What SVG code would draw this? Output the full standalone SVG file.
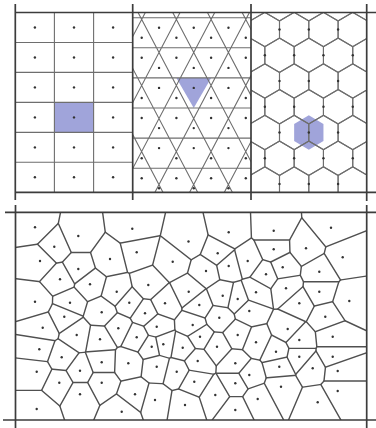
<svg xmlns="http://www.w3.org/2000/svg" width="376" height="428" viewBox="0 0 376 428">
<style>
.frame{stroke:#3c3c3c;stroke-width:1.7;fill:none}
.grid{stroke:#6e6e6e;stroke-width:1.1;fill:none}
.hl{fill:#a0a4da}
.dot{fill:#333}
.k{fill:#000;stroke:#000;stroke-width:1.4;vector-effect:non-scaling-stroke}
</style>
<defs>
<clipPath id="cTri"><rect x="132.7" y="12.5" width="118.3" height="179.8"/></clipPath>
<clipPath id="cHex"><rect x="251" y="12.5" width="115.7" height="179.8"/></clipPath>
<path id="hex" d="M0,-17.17 L14.65,-8.58 L14.65,8.58 L0,17.17 L-14.65,8.58 L-14.65,-8.58 Z"/>
<circle id="d" r="1.2"/>
<rect id="W" x="15" y="212" width="352" height="208" fill="#fff"/>
<rect id="p" class="k" x="0" y="-40" width="40" height="80"/>
<rect id="n" class="k" x="-40" y="-40" width="40" height="80"/>
<mask id="m1"><use href="#W"/><use href="#p" transform="matrix(43.3 8.7 -8.7 43.3 56.65 231.65)"/><use href="#p" transform="matrix(19.3 19.4 -19.4 19.3 44.65 237)"/><use href="#p" transform="matrix(5 33.7 -33.7 5 37.5 244.15)"/></mask>
<mask id="m2"><use href="#W"/><use href="#n" transform="matrix(43.3 8.7 -8.7 43.3 56.65 231.65)"/><use href="#p" transform="matrix(54 -7.3 7.3 54 105.3 232.35)"/><use href="#p" transform="matrix(-24 10.7 -10.7 -24 66.3 241.35)"/><use href="#p" transform="matrix(31.7 23 -23 31.7 94.15 247.5)"/><use href="#p" transform="matrix(0 33 -33 0 78.3 252.5)"/></mask>
<mask id="m3"><use href="#W"/><use href="#n" transform="matrix(54 -7.3 7.3 54 105.3 232.35)"/><use href="#p" transform="matrix(56.2 12.8 -12.8 56.2 160.4 235.1)"/><use href="#p" transform="matrix(-22.3 30.3 -30.3 -22.3 121.15 243.85)"/><use href="#p" transform="matrix(4.4 23.6 -23.6 4.4 134.5 240.5)"/></mask>
<mask id="m4"><use href="#W"/><use href="#n" transform="matrix(56.2 12.8 -12.8 56.2 160.4 235.1)"/><use href="#p" transform="matrix(40.2 -9.2 9.2 40.2 208.6 236.9)"/><use href="#p" transform="matrix(-51.8 10.8 -10.8 -51.8 162.6 246.9)"/><use href="#p" transform="matrix(-15.8 20.2 -20.2 -15.8 180.6 251.6)"/><use href="#p" transform="matrix(29.2 11.8 -11.8 29.2 203.1 247.4)"/><use href="#p" transform="matrix(17.5 29.5 -29.5 17.5 197.25 256.25)"/></mask>
<mask id="m5"><use href="#W"/><use href="#n" transform="matrix(40.2 -9.2 9.2 40.2 208.6 236.9)"/><use href="#p" transform="matrix(45 -1.6 1.6 45 251.2 231.5)"/><use href="#p" transform="matrix(-11 21 -21 -11 223.2 242.8)"/><use href="#p" transform="matrix(19 28.7 -28.7 19 238.2 246.65)"/></mask>
<mask id="m6"><use href="#W"/><use href="#n" transform="matrix(45 -1.6 1.6 45 251.2 231.5)"/><use href="#p" transform="matrix(57.3 -3 3 57.3 302.35 229.2)"/><use href="#p" transform="matrix(0 18.6 -18.6 0 273.7 240)"/><use href="#p" transform="matrix(32.3 17.6 -17.6 32.3 289.85 239.5)"/><use href="#p" transform="matrix(-26 30.3 -30.3 -26 260.7 245.85)"/></mask>
<mask id="m7"><use href="#W"/><use href="#n" transform="matrix(57.3 -3 3 57.3 302.35 229.2)"/><use href="#p" transform="matrix(-25 20.6 -20.6 -25 318.5 238)"/><use href="#p" transform="matrix(11.7 29.6 -29.6 11.7 336.85 242.5)"/></mask>
<mask id="m8"><use href="#W"/><use href="#n" transform="matrix(19.3 19.4 -19.4 19.3 44.65 237)"/><use href="#n" transform="matrix(-24 10.7 -10.7 -24 66.3 241.35)"/><use href="#p" transform="matrix(-14.3 14.3 -14.3 -14.3 47.15 253.85)"/><use href="#p" transform="matrix(24 22.3 -22.3 24 66.3 257.85)"/><use href="#p" transform="matrix(5.7 32.6 -32.6 5.7 57.15 263)"/></mask>
<mask id="m9"><use href="#W"/><use href="#n" transform="matrix(5 33.7 -33.7 5 37.5 244.15)"/><use href="#n" transform="matrix(-14.3 14.3 -14.3 -14.3 47.15 253.85)"/><use href="#p" transform="matrix(20 18.3 -18.3 20 50 270.15)"/><use href="#p" transform="matrix(-5 40.7 -40.7 -5 37.5 281.35)"/></mask>
<mask id="m10"><use href="#W"/><use href="#n" transform="matrix(31.7 23 -23 31.7 94.15 247.5)"/><use href="#n" transform="matrix(-22.3 30.3 -30.3 -22.3 121.15 243.85)"/><use href="#p" transform="matrix(26.7 -6.7 6.7 26.7 123.35 255.65)"/><use href="#p" transform="matrix(-31.7 10 -10 -31.7 94.15 264)"/><use href="#p" transform="matrix(-20 25.3 -25.3 -20 100 271.65)"/><use href="#p" transform="matrix(6.7 32.7 -32.7 6.7 113.35 275.35)"/></mask>
<mask id="m11"><use href="#W"/><use href="#n" transform="matrix(4.4 23.6 -23.6 4.4 134.5 240.5)"/><use href="#n" transform="matrix(-51.8 10.8 -10.8 -51.8 162.6 246.9)"/><use href="#n" transform="matrix(26.7 -6.7 6.7 26.7 123.35 255.65)"/><use href="#p" transform="matrix(36 9.4 -9.4 36 154.7 257)"/><use href="#p" transform="matrix(11.6 32.7 -32.7 11.6 142.5 268.65)"/><use href="#p" transform="matrix(-20 39.4 -39.4 -20 126.7 272)"/></mask>
<mask id="m12"><use href="#W"/><use href="#n" transform="matrix(-15.8 20.2 -20.2 -15.8 180.6 251.6)"/><use href="#n" transform="matrix(36 9.4 -9.4 36 154.7 257)"/><use href="#p" transform="matrix(33.3 9.3 -9.3 33.3 189.35 266.35)"/><use href="#p" transform="matrix(-24.4 23.3 -23.3 -24.4 160.5 273.35)"/><use href="#p" transform="matrix(-7.7 41.6 -41.6 -7.7 168.85 282.5)"/><use href="#p" transform="matrix(16 30 -30 16 180.7 276.7)"/></mask>
<mask id="m13"><use href="#W"/><use href="#n" transform="matrix(29.2 11.8 -11.8 29.2 203.1 247.4)"/><use href="#n" transform="matrix(-11 21 -21 -11 223.2 242.8)"/><use href="#p" transform="matrix(30 7.7 -7.7 30 232.7 257.15)"/><use href="#p" transform="matrix(11 12.7 -12.7 11 223.2 259.65)"/><use href="#p" transform="matrix(-11.7 17.7 -17.7 -11.7 211.85 262.15)"/></mask>
<mask id="m14"><use href="#W"/><use href="#n" transform="matrix(0 18.6 -18.6 0 273.7 240)"/><use href="#p" transform="matrix(32.3 -1 1 32.3 289.85 248.8)"/><use href="#p" transform="matrix(-26 11.7 -11.7 -26 260.7 255.15)"/><use href="#p" transform="matrix(9 18 -18 9 278.2 258.3)"/><use href="#p" transform="matrix(-7.7 25 -25 -7.7 269.85 261.8)"/></mask>
<mask id="m15"><use href="#W"/><use href="#n" transform="matrix(32.3 17.6 -17.6 32.3 289.85 239.5)"/><use href="#n" transform="matrix(-25 20.6 -20.6 -25 318.5 238)"/><use href="#n" transform="matrix(32.3 -1 1 32.3 289.85 248.8)"/><use href="#p" transform="matrix(36.7 9 -9 36.7 324.35 252.8)"/><use href="#p" transform="matrix(-23.3 19 -19 -23.3 294.35 257.8)"/><use href="#p" transform="matrix(13.3 23.4 -23.4 13.3 312.65 260)"/></mask>
<mask id="m16"><use href="#W"/><use href="#n" transform="matrix(11.7 29.6 -29.6 11.7 336.85 242.5)"/><use href="#n" transform="matrix(36.7 9 -9 36.7 324.35 252.8)"/><use href="#p" transform="matrix(-23.4 14.4 -14.4 -23.4 331 264.5)"/><use href="#p" transform="matrix(6.6 43.7 -43.7 6.6 346 279.15)"/></mask>
<mask id="m17"><use href="#W"/><use href="#n" transform="matrix(19 28.7 -28.7 19 238.2 246.65)"/><use href="#n" transform="matrix(-26 30.3 -30.3 -26 260.7 245.85)"/><use href="#n" transform="matrix(30 7.7 -7.7 30 232.7 257.15)"/><use href="#n" transform="matrix(-26 11.7 -11.7 -26 260.7 255.15)"/><use href="#p" transform="matrix(-19 5 -5 -19 238.2 263.5)"/><use href="#p" transform="matrix(18.3 13.3 -13.3 18.3 256.85 267.65)"/><use href="#p" transform="matrix(8.3 31.3 -31.3 8.3 251.85 276.65)"/></mask>
<mask id="m18"><use href="#W"/><use href="#n" transform="matrix(0 33 -33 0 78.3 252.5)"/><use href="#n" transform="matrix(24 22.3 -22.3 24 66.3 257.85)"/><use href="#n" transform="matrix(-31.7 10 -10 -31.7 94.15 264)"/><use href="#p" transform="matrix(-18.3 10.3 -10.3 -18.3 69.15 274.15)"/><use href="#p" transform="matrix(11.7 15.3 -15.3 11.7 84.15 276.65)"/></mask>
<mask id="m19"><use href="#W"/><use href="#n" transform="matrix(5.7 32.6 -32.6 5.7 57.15 263)"/><use href="#n" transform="matrix(20 18.3 -18.3 20 50 270.15)"/><use href="#n" transform="matrix(-18.3 10.3 -10.3 -18.3 69.15 274.15)"/><use href="#p" transform="matrix(30 5 -5 30 75 281.8)"/><use href="#p" transform="matrix(-25 22.4 -22.4 -25 47.5 290.5)"/><use href="#p" transform="matrix(10 23.4 -23.4 10 65 291)"/></mask>
<mask id="m20"><use href="#W"/><use href="#n" transform="matrix(11 12.7 -12.7 11 223.2 259.65)"/><use href="#n" transform="matrix(-19 5 -5 -19 238.2 263.5)"/><use href="#p" transform="matrix(-22.7 5 -5 -22.7 217.35 268.5)"/><use href="#p" transform="matrix(-6 29.7 -29.7 -6 225.7 280.85)"/><use href="#p" transform="matrix(27.3 26.3 -26.3 27.3 242.35 279.15)"/><use href="#p" transform="matrix(9 33 -33 9 233.2 282.5)"/></mask>
<mask id="m21"><use href="#W"/><use href="#n" transform="matrix(17.5 29.5 -29.5 17.5 197.25 256.25)"/><use href="#n" transform="matrix(33.3 9.3 -9.3 33.3 189.35 266.35)"/><use href="#n" transform="matrix(-11.7 17.7 -17.7 -11.7 211.85 262.15)"/><use href="#n" transform="matrix(-22.7 5 -5 -22.7 217.35 268.5)"/><use href="#p" transform="matrix(-17.3 20.7 -20.7 -17.3 197.35 281.35)"/><use href="#p" transform="matrix(16.7 24.7 -24.7 16.7 214.35 283.35)"/><use href="#p" transform="matrix(-6.7 34 -34 -6.7 202.65 288)"/></mask>
<mask id="m22"><use href="#W"/><use href="#n" transform="matrix(9 18 -18 9 278.2 258.3)"/><use href="#n" transform="matrix(-23.3 19 -19 -23.3 294.35 257.8)"/><use href="#p" transform="matrix(-16.7 7 -7 -16.7 274.35 270.8)"/><use href="#p" transform="matrix(36.6 4.4 -4.4 36.6 301 269.5)"/><use href="#p" transform="matrix(3.3 21 -21 3.3 284.35 277.8)"/></mask>
<mask id="m23"><use href="#W"/><use href="#n" transform="matrix(-7.7 25 -25 -7.7 269.85 261.8)"/><use href="#n" transform="matrix(18.3 13.3 -13.3 18.3 256.85 267.65)"/><use href="#n" transform="matrix(-16.7 7 -7 -16.7 274.35 270.8)"/><use href="#p" transform="matrix(-10 18 -18 -10 261 283.3)"/><use href="#p" transform="matrix(20 14 -14 20 276 281.3)"/></mask>
<mask id="m24"><use href="#W"/><use href="#n" transform="matrix(13.3 23.4 -23.4 13.3 312.65 260)"/><use href="#n" transform="matrix(-23.4 14.4 -14.4 -23.4 331 264.5)"/><use href="#n" transform="matrix(36.6 4.4 -4.4 36.6 301 269.5)"/><use href="#p" transform="matrix(-33.3 16.6 -16.6 -33.3 302.65 280)"/><use href="#p" transform="matrix(0 20 -20 0 319.3 281.7)"/><use href="#p" transform="matrix(30 29.3 -29.3 30 334.3 286.35)"/></mask>
<mask id="m25"><use href="#W"/><use href="#n" transform="matrix(-20 25.3 -25.3 -20 100 271.65)"/><use href="#n" transform="matrix(11.7 15.3 -15.3 11.7 84.15 276.65)"/><use href="#n" transform="matrix(30 5 -5 30 75 281.8)"/><use href="#p" transform="matrix(26.7 7.4 -7.4 26.7 103.35 288)"/><use href="#p" transform="matrix(-20 18.4 -18.4 -20 80 293.5)"/><use href="#p" transform="matrix(11.7 28 -28 11.7 95.85 298.3)"/></mask>
<mask id="m26"><use href="#W"/><use href="#n" transform="matrix(11.6 32.7 -32.7 11.6 142.5 268.65)"/><use href="#n" transform="matrix(-24.4 23.3 -23.3 -24.4 160.5 273.35)"/><use href="#p" transform="matrix(-31.6 6.7 -6.7 -31.6 132.5 288.35)"/><use href="#p" transform="matrix(-19 17.7 -17.7 -19 138.8 293.85)"/><use href="#p" transform="matrix(16.7 18.3 -18.3 16.7 156.65 294.15)"/><use href="#p" transform="matrix(40.4 6.7 -6.7 40.4 168.5 288.35)"/><use href="#p" transform="matrix(-3.3 28.3 -28.3 -3.3 146.65 299.15)"/></mask>
<mask id="m27"><use href="#W"/><use href="#n" transform="matrix(6.7 32.7 -32.7 6.7 113.35 275.35)"/><use href="#n" transform="matrix(-20 39.4 -39.4 -20 126.7 272)"/><use href="#n" transform="matrix(26.7 7.4 -7.4 26.7 103.35 288)"/><use href="#n" transform="matrix(-31.6 6.7 -6.7 -31.6 132.5 288.35)"/><use href="#p" transform="matrix(12.6 11 -11 12.6 123 297.2)"/><use href="#p" transform="matrix(-15 20.6 -20.6 -15 109.2 302)"/></mask>
<mask id="m28"><use href="#W"/><use href="#n" transform="matrix(-5 40.7 -40.7 -5 37.5 281.35)"/><use href="#n" transform="matrix(-25 22.4 -22.4 -25 47.5 290.5)"/><use href="#p" transform="matrix(35 1 -1 35 52.5 302.2)"/><use href="#p" transform="matrix(29.3 15 -15 29.3 49.65 309.2)"/><use href="#p" transform="matrix(7.7 26 -26 7.7 38.85 314.7)"/></mask>
<mask id="m29"><use href="#W"/><use href="#n" transform="matrix(10 23.4 -23.4 10 65 291)"/><use href="#n" transform="matrix(-20 18.4 -18.4 -20 80 293.5)"/><use href="#n" transform="matrix(35 1 -1 35 52.5 302.2)"/><use href="#p" transform="matrix(31.7 9.6 -9.6 31.7 85.85 307.5)"/><use href="#p" transform="matrix(-5.7 14 -14 -5.7 67.15 309.7)"/></mask>
<mask id="m30"><use href="#W"/><use href="#n" transform="matrix(-19 17.7 -17.7 -19 138.8 293.85)"/><use href="#n" transform="matrix(12.6 11 -11 12.6 123 297.2)"/><use href="#p" transform="matrix(-27.6 9.6 -9.6 -27.6 115.5 307.5)"/><use href="#p" transform="matrix(15.7 10.6 -10.6 15.7 137.15 308)"/><use href="#p" transform="matrix(-11 25.6 -25.6 -11 123.8 315.5)"/></mask>
<mask id="m31"><use href="#W"/><use href="#n" transform="matrix(-7.7 41.6 -41.6 -7.7 168.85 282.5)"/><use href="#n" transform="matrix(16.7 18.3 -18.3 16.7 156.65 294.15)"/><use href="#p" transform="matrix(23.7 -11.6 11.6 23.7 176.85 297.5)"/><use href="#p" transform="matrix(34.3 1.7 -1.7 34.3 182.15 304.15)"/><use href="#p" transform="matrix(-20 10 -10 -20 155 308.3)"/><use href="#p" transform="matrix(-8.3 23.4 -23.4 -8.3 160.85 315)"/><use href="#p" transform="matrix(27.7 21.7 -21.7 27.7 178.85 314.15)"/></mask>
<mask id="m32"><use href="#W"/><use href="#n" transform="matrix(16 30 -30 16 180.7 276.7)"/><use href="#n" transform="matrix(-17.3 20.7 -20.7 -17.3 197.35 281.35)"/><use href="#n" transform="matrix(40.4 6.7 -6.7 40.4 168.5 288.35)"/><use href="#n" transform="matrix(23.7 -11.6 11.6 23.7 176.85 297.5)"/><use href="#p" transform="matrix(34 4 -4 34 205.7 293.7)"/><use href="#p" transform="matrix(10.6 13.3 -13.3 10.6 194 298.35)"/></mask>
<mask id="m33"><use href="#W"/><use href="#n" transform="matrix(-6 29.7 -29.7 -6 225.7 280.85)"/><use href="#n" transform="matrix(16.7 24.7 -24.7 16.7 214.35 283.35)"/><use href="#n" transform="matrix(34 4 -4 34 205.7 293.7)"/><use href="#p" transform="matrix(-23.4 9.3 -9.3 -23.4 211 300.35)"/><use href="#p" transform="matrix(15 3.3 -3.3 15 230.2 297.35)"/><use href="#p" transform="matrix(-3.4 22 -22 -3.4 221 306.7)"/></mask>
<mask id="m34"><use href="#W"/><use href="#n" transform="matrix(8.3 31.3 -31.3 8.3 251.85 276.65)"/><use href="#n" transform="matrix(27.3 26.3 -26.3 27.3 242.35 279.15)"/><use href="#n" transform="matrix(-10 18 -18 -10 261 283.3)"/><use href="#p" transform="matrix(30 -4 4 30 271 290.3)"/><use href="#p" transform="matrix(-18.3 6.7 -6.7 -18.3 246.85 295.65)"/><use href="#p" transform="matrix(-6.7 18.7 -18.7 -6.7 252.65 301.65)"/></mask>
<mask id="m35"><use href="#W"/><use href="#n" transform="matrix(3.3 21 -21 3.3 284.35 277.8)"/><use href="#n" transform="matrix(20 14 -14 20 276 281.3)"/><use href="#n" transform="matrix(-33.3 16.6 -16.6 -33.3 302.65 280)"/><use href="#n" transform="matrix(30 -4 4 30 271 290.3)"/><use href="#p" transform="matrix(33.3 3.4 -3.4 33.3 302.65 290)"/><use href="#p" transform="matrix(13.3 15 -15 13.3 292.65 295.8)"/><use href="#p" transform="matrix(-36.7 22.7 -22.7 -36.7 267.65 299.65)"/><use href="#p" transform="matrix(1.7 40.7 -40.7 1.7 286.85 308.65)"/></mask>
<mask id="m36"><use href="#W"/><use href="#n" transform="matrix(0 20 -20 0 319.3 281.7)"/><use href="#n" transform="matrix(33.3 3.4 -3.4 33.3 302.65 290)"/><use href="#p" transform="matrix(30 9.3 -9.3 30 334.3 296.35)"/><use href="#p" transform="matrix(-20 11.6 -11.6 -20 309.3 297.5)"/><use href="#p" transform="matrix(6 25 -25 6 322.3 304.2)"/></mask>
<mask id="m37"><use href="#W"/><use href="#n" transform="matrix(6.6 43.7 -43.7 6.6 346 279.15)"/><use href="#n" transform="matrix(30 29.3 -29.3 30 334.3 286.35)"/><use href="#n" transform="matrix(30 9.3 -9.3 30 334.3 296.35)"/><use href="#p" transform="matrix(-24 15.7 -15.7 -24 337.3 308.85)"/><use href="#p" transform="matrix(-16.6 35.7 -35.7 -16.6 341 318.85)"/></mask>
<mask id="m38"><use href="#W"/><use href="#n" transform="matrix(-6.7 34 -34 -6.7 202.65 288)"/><use href="#n" transform="matrix(34.3 1.7 -1.7 34.3 182.15 304.15)"/><use href="#n" transform="matrix(10.6 13.3 -13.3 10.6 194 298.35)"/><use href="#n" transform="matrix(-23.4 9.3 -9.3 -23.4 211 300.35)"/><use href="#p" transform="matrix(-6.6 20 -20 -6.6 196 315)"/><use href="#p" transform="matrix(20 12.7 -12.7 20 209.3 311.35)"/></mask>
<mask id="m39"><use href="#W"/><use href="#n" transform="matrix(9 33 -33 9 233.2 282.5)"/><use href="#n" transform="matrix(15 3.3 -3.3 15 230.2 297.35)"/><use href="#n" transform="matrix(-18.3 6.7 -6.7 -18.3 246.85 295.65)"/><use href="#p" transform="matrix(11.6 12 -12 11.6 243.5 305)"/><use href="#p" transform="matrix(-18.4 18.7 -18.7 -18.4 228.5 308.35)"/></mask>
<mask id="m40"><use href="#W"/><use href="#n" transform="matrix(13.3 15 -15 13.3 292.65 295.8)"/><use href="#n" transform="matrix(-20 11.6 -11.6 -20 309.3 297.5)"/><use href="#p" transform="matrix(26 13.4 -13.4 26 312.3 310)"/><use href="#p" transform="matrix(-11.6 25.7 -25.7 -11.6 293.5 316.15)"/><use href="#p" transform="matrix(0 36.7 -36.7 0 299.3 321.65)"/></mask>
<mask id="m41"><use href="#W"/><use href="#n" transform="matrix(11.7 28 -28 11.7 95.85 298.3)"/><use href="#n" transform="matrix(-15 20.6 -20.6 -15 109.2 302)"/><use href="#n" transform="matrix(31.7 9.6 -9.6 31.7 85.85 307.5)"/><use href="#n" transform="matrix(-27.6 9.6 -9.6 -27.6 115.5 307.5)"/><use href="#p" transform="matrix(-37.4 4.4 -4.4 -37.4 83 314.5)"/><use href="#p" transform="matrix(16.6 16 -16 16.6 110 320.3)"/><use href="#p" transform="matrix(-25 22.7 -22.7 -25 89.2 323.65)"/><use href="#p" transform="matrix(-1.7 27 -27 -1.7 100.85 325.8)"/></mask>
<mask id="m42"><use href="#W"/><use href="#n" transform="matrix(-3.3 28.3 -28.3 -3.3 146.65 299.15)"/><use href="#n" transform="matrix(15.7 10.6 -10.6 15.7 137.15 308)"/><use href="#n" transform="matrix(-20 10 -10 -20 155 308.3)"/><use href="#p" transform="matrix(-26.7 15 -15 -26.7 131.65 320.8)"/><use href="#p" transform="matrix(11.7 13.4 -13.4 11.7 150.85 320)"/><use href="#p" transform="matrix(-8.3 24 -24 -8.3 140.85 325.3)"/></mask>
<mask id="m43"><use href="#W"/><use href="#n" transform="matrix(29.3 15 -15 29.3 49.65 309.2)"/><use href="#n" transform="matrix(-5.7 14 -14 -5.7 67.15 309.7)"/><use href="#n" transform="matrix(-37.4 4.4 -4.4 -37.4 83 314.5)"/><use href="#p" transform="matrix(-21.6 11 -11 -21.6 53.5 322.2)"/><use href="#p" transform="matrix(12.4 18.3 -18.3 12.4 70.5 325.85)"/></mask>
<mask id="m44"><use href="#W"/><use href="#n" transform="matrix(7.7 26 -26 7.7 38.85 314.7)"/><use href="#n" transform="matrix(-21.6 11 -11 -21.6 53.5 322.2)"/><use href="#p" transform="matrix(34 7.3 -7.3 34 59.7 331.35)"/><use href="#p" transform="matrix(-3.4 21.6 -21.6 -3.4 41 338.5)"/><use href="#p" transform="matrix(19 29.6 -29.6 19 52.2 342.5)"/></mask>
<mask id="m45"><use href="#W"/><use href="#n" transform="matrix(-11 25.6 -25.6 -11 123.8 315.5)"/><use href="#n" transform="matrix(16.6 16 -16 16.6 110 320.3)"/><use href="#n" transform="matrix(-26.7 15 -15 -26.7 131.65 320.8)"/><use href="#p" transform="matrix(-18.3 11 -11 -18.3 109.15 333.8)"/><use href="#p" transform="matrix(18.4 9 -9 18.4 127.5 332.8)"/><use href="#p" transform="matrix(10 35 -35 10 123.3 345.8)"/></mask>
<mask id="m46"><use href="#W"/><use href="#n" transform="matrix(-8.3 23.4 -23.4 -8.3 160.85 315)"/><use href="#n" transform="matrix(11.7 13.4 -13.4 11.7 150.85 320)"/><use href="#p" transform="matrix(36 -1.7 1.7 36 174.7 325.85)"/><use href="#p" transform="matrix(-20 10.6 -10.6 -20 146.7 332)"/><use href="#p" transform="matrix(-5 20 -20 -5 154.2 336.7)"/><use href="#p" transform="matrix(6.6 17.6 -17.6 6.6 160 335.5)"/></mask>
<mask id="m47"><use href="#W"/><use href="#n" transform="matrix(-6.7 18.7 -18.7 -6.7 252.65 301.65)"/><use href="#n" transform="matrix(-36.7 22.7 -22.7 -36.7 267.65 299.65)"/><use href="#n" transform="matrix(11.6 12 -12 11.6 243.5 305)"/><use href="#p" transform="matrix(-30 6.7 -6.7 -30 234.3 314.35)"/><use href="#p" transform="matrix(38.4 18 -18 38.4 268.5 320)"/><use href="#p" transform="matrix(-11.6 24 -24 -11.6 243.5 323)"/><use href="#p" transform="matrix(6.7 31.3 -31.3 6.7 252.65 326.65)"/></mask>
<mask id="m48"><use href="#W"/><use href="#n" transform="matrix(6 25 -25 6 322.3 304.2)"/><use href="#n" transform="matrix(-24 15.7 -15.7 -24 337.3 308.85)"/><use href="#n" transform="matrix(26 13.4 -13.4 26 312.3 310)"/><use href="#p" transform="matrix(-37.6 12.3 -12.3 -37.6 306.5 322.85)"/><use href="#p" transform="matrix(7.4 20 -20 7.4 329 326.7)"/><use href="#p" transform="matrix(-26 23.3 -23.3 -26 312.3 328.35)"/></mask>
<mask id="m49"><use href="#W"/><use href="#n" transform="matrix(27.7 21.7 -21.7 27.7 178.85 314.15)"/><use href="#n" transform="matrix(-6.6 20 -20 -6.6 196 315)"/><use href="#n" transform="matrix(36 -1.7 1.7 36 174.7 325.85)"/><use href="#p" transform="matrix(26.6 -7.3 7.3 26.6 206 321.35)"/><use href="#p" transform="matrix(-29.4 19.3 -19.3 -29.4 178 334.65)"/><use href="#p" transform="matrix(-10 22.7 -22.7 -10 187.7 336.35)"/><use href="#p" transform="matrix(7.3 11.7 -11.7 7.3 196.35 330.85)"/></mask>
<mask id="m50"><use href="#W"/><use href="#n" transform="matrix(-3.4 22 -22 -3.4 221 306.7)"/><use href="#n" transform="matrix(20 12.7 -12.7 20 209.3 311.35)"/><use href="#n" transform="matrix(-18.4 18.7 -18.7 -18.4 228.5 308.35)"/><use href="#n" transform="matrix(-30 6.7 -6.7 -30 234.3 314.35)"/><use href="#n" transform="matrix(26.6 -7.3 7.3 26.6 206 321.35)"/><use href="#p" transform="matrix(-19.3 19 -19 -19.3 209.65 327.2)"/><use href="#p" transform="matrix(18.4 17.3 -17.3 18.4 228.5 326.35)"/><use href="#p" transform="matrix(-2.3 29 -29 -2.3 218.15 332.2)"/></mask>
<mask id="m51"><use href="#W"/><use href="#n" transform="matrix(1.7 40.7 -40.7 1.7 286.85 308.65)"/><use href="#n" transform="matrix(-11.6 25.7 -25.7 -11.6 293.5 316.15)"/><use href="#n" transform="matrix(38.4 18 -18 38.4 268.5 320)"/><use href="#n" transform="matrix(-37.6 12.3 -12.3 -37.6 306.5 322.85)"/><use href="#p" transform="matrix(-31.7 13.3 -13.3 -31.7 271.85 335.65)"/><use href="#p" transform="matrix(11.6 11 -11 11.6 293.5 334.5)"/><use href="#p" transform="matrix(-11.7 22.7 -22.7 -11.7 281.85 340.35)"/></mask>
<mask id="m52"><use href="#W"/><use href="#n" transform="matrix(-25 22.7 -22.7 -25 89.2 323.65)"/><use href="#n" transform="matrix(12.4 18.3 -18.3 12.4 70.5 325.85)"/><use href="#n" transform="matrix(34 7.3 -7.3 34 59.7 331.35)"/><use href="#p" transform="matrix(23.3 4.3 -4.3 23.3 88.35 337.15)"/><use href="#p" transform="matrix(-15 22.3 -22.3 -15 69.2 346.15)"/><use href="#p" transform="matrix(25 27.3 -27.3 25 89.2 348.65)"/><use href="#p" transform="matrix(3.3 35.7 -35.7 3.3 78.35 352.85)"/></mask>
<mask id="m53"><use href="#W"/><use href="#n" transform="matrix(-1.7 27 -27 -1.7 100.85 325.8)"/><use href="#n" transform="matrix(-18.3 11 -11 -18.3 109.15 333.8)"/><use href="#n" transform="matrix(23.3 4.3 -4.3 23.3 88.35 337.15)"/><use href="#p" transform="matrix(1.7 23 -23 1.7 100.85 350.8)"/><use href="#p" transform="matrix(28.3 24 -24 28.3 114.15 351.3)"/></mask>
<mask id="m54"><use href="#W"/><use href="#n" transform="matrix(-8.3 24 -24 -8.3 140.85 325.3)"/><use href="#n" transform="matrix(18.4 9 -9 18.4 127.5 332.8)"/><use href="#n" transform="matrix(-20 10.6 -10.6 -20 146.7 332)"/><use href="#p" transform="matrix(15 9.4 -9.4 15 144.2 342)"/><use href="#p" transform="matrix(-8.4 26 -26 -8.4 132.5 350.3)"/></mask>
<mask id="m55"><use href="#W"/><use href="#n" transform="matrix(-5 20 -20 -5 154.2 336.7)"/><use href="#n" transform="matrix(15 9.4 -9.4 15 144.2 342)"/><use href="#p" transform="matrix(11.6 -2.4 2.4 11.6 157.5 345.5)"/><use href="#p" transform="matrix(-23.4 16.6 -16.6 -23.4 140 355)"/><use href="#p" transform="matrix(5 20 -20 5 154.2 356.7)"/></mask>
<mask id="m56"><use href="#W"/><use href="#n" transform="matrix(6.6 17.6 -17.6 6.6 160 335.5)"/><use href="#n" transform="matrix(-29.4 19.3 -19.3 -29.4 178 334.65)"/><use href="#n" transform="matrix(11.6 -2.4 2.4 11.6 157.5 345.5)"/><use href="#p" transform="matrix(19.4 3.4 -3.4 19.4 173 346)"/><use href="#p" transform="matrix(-6.6 22.4 -22.4 -6.6 160 355.5)"/><use href="#p" transform="matrix(13.4 27.4 -27.4 13.4 170 358)"/></mask>
<mask id="m57"><use href="#W"/><use href="#n" transform="matrix(-10 22.7 -22.7 -10 187.7 336.35)"/><use href="#n" transform="matrix(19.4 3.4 -3.4 19.4 173 346)"/><use href="#p" transform="matrix(17.3 -11 11 17.3 191.35 342.2)"/><use href="#p" transform="matrix(-6 24 -24 -6 179.7 359.7)"/><use href="#p" transform="matrix(15 13.3 -13.3 15 190.2 354.35)"/></mask>
<mask id="m58"><use href="#W"/><use href="#n" transform="matrix(-3.4 21.6 -21.6 -3.4 41 338.5)"/><use href="#p" transform="matrix(22.4 8 -8 22.4 50.5 353.3)"/><use href="#p" transform="matrix(-2.6 22.4 -22.4 -2.6 38 360.5)"/></mask>
<mask id="m59"><use href="#W"/><use href="#n" transform="matrix(7.3 11.7 -11.7 7.3 196.35 330.85)"/><use href="#n" transform="matrix(-19.3 19 -19 -19.3 209.65 327.2)"/><use href="#n" transform="matrix(17.3 -11 11 17.3 191.35 342.2)"/><use href="#p" transform="matrix(17 10 -10 17 208.5 341.7)"/><use href="#p" transform="matrix(-2.3 24.3 -24.3 -2.3 198.85 348.85)"/></mask>
<mask id="m60"><use href="#W"/><use href="#n" transform="matrix(-11.6 24 -24 -11.6 243.5 323)"/><use href="#n" transform="matrix(18.4 17.3 -17.3 18.4 228.5 326.35)"/><use href="#p" transform="matrix(18.3 7.3 -7.3 18.3 246.85 338.65)"/><use href="#p" transform="matrix(-20.7 11.7 -11.7 -20.7 227.35 340.85)"/><use href="#p" transform="matrix(-2.4 28.3 -28.3 -2.4 236.5 349.15)"/></mask>
<mask id="m61"><use href="#W"/><use href="#n" transform="matrix(-16.6 35.7 -35.7 -16.6 341 318.85)"/><use href="#n" transform="matrix(7.4 20 -20 7.4 329 326.7)"/><use href="#p" transform="matrix(-33.4 3.3 -3.3 -33.4 316 338.35)"/><use href="#p" transform="matrix(0 20 -20 0 332.7 346.7)"/></mask>
<mask id="m62"><use href="#W"/><use href="#n" transform="matrix(6.7 31.3 -31.3 6.7 252.65 326.65)"/><use href="#n" transform="matrix(-31.7 13.3 -13.3 -31.7 271.85 335.65)"/><use href="#n" transform="matrix(18.3 7.3 -7.3 18.3 246.85 338.65)"/><use href="#p" transform="matrix(20 9.4 -9.4 20 266 347)"/><use href="#p" transform="matrix(-20.7 21 -21 -20.7 245.65 352.8)"/><use href="#p" transform="matrix(-6.7 32.7 -32.7 -6.7 252.65 358.65)"/></mask>
<mask id="m63"><use href="#W"/><use href="#n" transform="matrix(-2.3 29 -29 -2.3 218.15 332.2)"/><use href="#n" transform="matrix(17 10 -10 17 208.5 341.7)"/><use href="#n" transform="matrix(-20.7 11.7 -11.7 -20.7 227.35 340.85)"/><use href="#p" transform="matrix(-19.3 14.3 -14.3 -19.3 207.35 353.85)"/><use href="#p" transform="matrix(18.3 16.6 -16.6 18.3 226.15 355)"/></mask>
<mask id="m64"><use href="#W"/><use href="#n" transform="matrix(0 36.7 -36.7 0 299.3 321.65)"/><use href="#n" transform="matrix(-26 23.3 -23.3 -26 312.3 328.35)"/><use href="#n" transform="matrix(11.6 11 -11 11.6 293.5 334.5)"/><use href="#n" transform="matrix(-33.4 3.3 -3.3 -33.4 316 338.35)"/><use href="#p" transform="matrix(-23.3 11.7 -11.7 -23.3 287.65 345.85)"/><use href="#p" transform="matrix(33.4 16.7 -16.7 33.4 316 348.35)"/><use href="#p" transform="matrix(0 16.7 -16.7 0 299.3 348.35)"/></mask>
<mask id="m65"><use href="#W"/><use href="#n" transform="matrix(-11.7 22.7 -22.7 -11.7 281.85 340.35)"/><use href="#n" transform="matrix(20 9.4 -9.4 20 266 347)"/><use href="#n" transform="matrix(-23.3 11.7 -11.7 -23.3 287.65 345.85)"/><use href="#p" transform="matrix(23.3 5 -5 23.3 287.65 354.2)"/><use href="#p" transform="matrix(-26.7 23.3 -23.3 -26.7 262.65 363.35)"/><use href="#p" transform="matrix(3.3 15 -15 3.3 277.65 359.2)"/></mask>
<mask id="m66"><use href="#W"/><use href="#n" transform="matrix(0 20 -20 0 332.7 346.7)"/><use href="#n" transform="matrix(33.4 16.7 -16.7 33.4 316 348.35)"/><use href="#p" transform="matrix(-33.4 0 0 -33.4 316 356.7)"/><use href="#p" transform="matrix(-20 11.6 -11.6 -20 322.7 362.5)"/><use href="#p" transform="matrix(5 14.3 -14.3 5 335.2 363.85)"/></mask>
<mask id="m67"><use href="#W"/><use href="#n" transform="matrix(19 29.6 -29.6 19 52.2 342.5)"/><use href="#n" transform="matrix(-15 22.3 -22.3 -15 69.2 346.15)"/><use href="#n" transform="matrix(22.4 8 -8 22.4 50.5 353.3)"/><use href="#p" transform="matrix(-25 14.4 -14.4 -25 49.2 364.5)"/><use href="#p" transform="matrix(18.3 13.4 -13.4 18.3 70.85 364)"/><use href="#p" transform="matrix(-2.4 25.4 -25.4 -2.4 60.5 370)"/></mask>
<mask id="m68"><use href="#W"/><use href="#n" transform="matrix(25 27.3 -27.3 25 89.2 348.65)"/><use href="#n" transform="matrix(1.7 23 -23 1.7 100.85 350.8)"/><use href="#p" transform="matrix(26.6 1 -1 26.6 115 362.8)"/><use href="#p" transform="matrix(-21.7 8.4 -8.4 -21.7 90.85 366.5)"/><use href="#p" transform="matrix(0 20.4 -20.4 0 101.7 372.5)"/></mask>
<mask id="m69"><use href="#W"/><use href="#n" transform="matrix(10 35 -35 10 123.3 345.8)"/><use href="#n" transform="matrix(28.3 24 -24 28.3 114.15 351.3)"/><use href="#n" transform="matrix(-8.4 26 -26 -8.4 132.5 350.3)"/><use href="#n" transform="matrix(-23.4 16.6 -16.6 -23.4 140 355)"/><use href="#n" transform="matrix(26.6 1 -1 26.6 115 362.8)"/><use href="#p" transform="matrix(28.4 3.4 -3.4 28.4 142.5 365)"/><use href="#p" transform="matrix(-26.6 19.4 -19.4 -26.6 115 373)"/><use href="#p" transform="matrix(6.7 31 -31 6.7 131.65 378.8)"/></mask>
<mask id="m70"><use href="#W"/><use href="#n" transform="matrix(-2.6 22.4 -22.4 -2.6 38 360.5)"/><use href="#n" transform="matrix(-25 14.4 -14.4 -25 49.2 364.5)"/><use href="#p" transform="matrix(22.6 11 -11 22.6 48 377.2)"/><use href="#p" transform="matrix(0 37.3 -37.3 0 36.7 390.35)"/></mask>
<mask id="m71"><use href="#W"/><use href="#n" transform="matrix(3.3 35.7 -35.7 3.3 78.35 352.85)"/><use href="#n" transform="matrix(18.3 13.4 -13.4 18.3 70.85 364)"/><use href="#n" transform="matrix(-21.7 8.4 -8.4 -21.7 90.85 366.5)"/><use href="#p" transform="matrix(-20.7 12 -12 -20.7 69.65 376.7)"/><use href="#p" transform="matrix(21.7 12 -12 21.7 90.85 376.7)"/><use href="#p" transform="matrix(0 23.6 -23.6 0 80 382.5)"/></mask>
<mask id="m72"><use href="#W"/><use href="#n" transform="matrix(5 20 -20 5 154.2 356.7)"/><use href="#n" transform="matrix(-6.6 22.4 -22.4 -6.6 160 355.5)"/><use href="#n" transform="matrix(28.4 3.4 -3.4 28.4 142.5 365)"/><use href="#p" transform="matrix(20 5 -5 20 166.7 369.2)"/><use href="#p" transform="matrix(-21.7 27.6 -27.6 -21.7 145.85 380.5)"/><use href="#p" transform="matrix(-1.7 33.3 -33.3 -1.7 155.85 383.35)"/></mask>
<mask id="m73"><use href="#W"/><use href="#n" transform="matrix(13.4 27.4 -27.4 13.4 170 358)"/><use href="#n" transform="matrix(-6 24 -24 -6 179.7 359.7)"/><use href="#n" transform="matrix(20 5 -5 20 166.7 369.2)"/><use href="#p" transform="matrix(21 -10.7 10.7 21 187.2 366.35)"/><use href="#p" transform="matrix(17.6 10 -10 17.6 185.5 376.7)"/><use href="#p" transform="matrix(-21.7 28.3 -28.3 -21.7 165.85 385.85)"/><use href="#p" transform="matrix(8.3 33.3 -33.3 8.3 180.85 388.35)"/></mask>
<mask id="m74"><use href="#W"/><use href="#n" transform="matrix(15 13.3 -13.3 15 190.2 354.35)"/><use href="#n" transform="matrix(-2.3 24.3 -24.3 -2.3 198.85 348.85)"/><use href="#n" transform="matrix(-19.3 14.3 -14.3 -19.3 207.35 353.85)"/><use href="#n" transform="matrix(21 -10.7 10.7 21 187.2 366.35)"/><use href="#p" transform="matrix(37.6 2.3 -2.3 37.6 216.5 362.15)"/><use href="#p" transform="matrix(-3.4 20.7 -20.7 -3.4 196 371.35)"/><use href="#p" transform="matrix(17.6 34 -34 17.6 206.5 378)"/></mask>
<mask id="m75"><use href="#W"/><use href="#n" transform="matrix(-2.4 28.3 -28.3 -2.4 236.5 349.15)"/><use href="#n" transform="matrix(-20.7 21 -21 -20.7 245.65 352.8)"/><use href="#n" transform="matrix(18.3 16.6 -16.6 18.3 226.15 355)"/><use href="#n" transform="matrix(37.6 2.3 -2.3 37.6 216.5 362.15)"/><use href="#p" transform="matrix(14 11.7 -11.7 14 242.3 369.15)"/><use href="#p" transform="matrix(0 20 -20 0 235.3 373.3)"/><use href="#p" transform="matrix(-20 31.7 -31.7 -20 225.3 379.15)"/></mask>
<mask id="m76"><use href="#W"/><use href="#n" transform="matrix(0 16.7 -16.7 0 299.3 348.35)"/><use href="#n" transform="matrix(23.3 5 -5 23.3 287.65 354.2)"/><use href="#n" transform="matrix(-33.4 0 0 -33.4 316 356.7)"/><use href="#p" transform="matrix(13.4 11.6 -11.6 13.4 306 362.5)"/><use href="#p" transform="matrix(-20 10 -10 -20 289.3 361.7)"/></mask>
<mask id="m77"><use href="#W"/><use href="#n" transform="matrix(-20 11.6 -11.6 -20 322.7 362.5)"/><use href="#n" transform="matrix(13.4 11.6 -11.6 13.4 306 362.5)"/><use href="#p" transform="matrix(25 2.7 -2.7 25 325.2 369.65)"/><use href="#p" transform="matrix(-33.4 -1.6 1.6 -33.4 296 367.5)"/><use href="#p" transform="matrix(-31.7 18.4 -18.4 -31.7 296.85 377.5)"/><use href="#p" transform="matrix(25 22.7 -22.7 25 325.2 379.65)"/><use href="#p" transform="matrix(5 34 -34 5 315.2 385.3)"/></mask>
<mask id="m78"><use href="#W"/><use href="#n" transform="matrix(5 14.3 -14.3 5 335.2 363.85)"/><use href="#n" transform="matrix(25 2.7 -2.7 25 325.2 369.65)"/><use href="#p" transform="matrix(0 20 -20 0 337.7 381)"/></mask>
<mask id="m79"><use href="#W"/><use href="#n" transform="matrix(-6.7 32.7 -32.7 -6.7 252.65 358.65)"/><use href="#n" transform="matrix(-26.7 23.3 -23.3 -26.7 262.65 363.35)"/><use href="#n" transform="matrix(14 11.7 -11.7 14 242.3 369.15)"/><use href="#p" transform="matrix(30 -8.3 8.3 30 264.3 370.85)"/><use href="#p" transform="matrix(-14 8.3 -8.3 -14 242.3 379.15)"/><use href="#p" transform="matrix(31.7 11.7 -11.7 31.7 265.15 380.85)"/><use href="#p" transform="matrix(8.4 24 -24 8.4 253.5 387)"/></mask>
<mask id="m80"><use href="#W"/><use href="#n" transform="matrix(3.3 15 -15 3.3 277.65 359.2)"/><use href="#n" transform="matrix(-20 10 -10 -20 289.3 361.7)"/><use href="#n" transform="matrix(-33.4 -1.6 1.6 -33.4 296 367.5)"/><use href="#n" transform="matrix(30 -8.3 8.3 30 264.3 370.85)"/><use href="#p" transform="matrix(1.7 20 -20 1.7 280.15 376.7)"/></mask>
<mask id="m81"><use href="#W"/><use href="#n" transform="matrix(-2.4 25.4 -25.4 -2.4 60.5 370)"/><use href="#n" transform="matrix(22.6 11 -11 22.6 48 377.2)"/><use href="#n" transform="matrix(-20.7 12 -12 -20.7 69.65 376.7)"/><use href="#p" transform="matrix(20.7 11.6 -11.6 20.7 69.65 388.5)"/><use href="#p" transform="matrix(-22.6 26.3 -26.3 -22.6 48 395.85)"/></mask>
<mask id="m82"><use href="#W"/><use href="#n" transform="matrix(0 20.4 -20.4 0 101.7 372.5)"/><use href="#n" transform="matrix(-26.6 19.4 -19.4 -26.6 115 373)"/><use href="#n" transform="matrix(21.7 12 -12 21.7 90.85 376.7)"/><use href="#p" transform="matrix(33.3 11.6 -11.6 33.3 118.35 388.5)"/><use href="#p" transform="matrix(-21.7 11.6 -11.6 -21.7 90.85 388.5)"/><use href="#p" transform="matrix(20 29 -29 20 111.7 397.2)"/></mask>
<mask id="m83"><use href="#W"/><use href="#n" transform="matrix(17.6 10 -10 17.6 185.5 376.7)"/><use href="#n" transform="matrix(-3.4 20.7 -20.7 -3.4 196 371.35)"/><use href="#p" transform="matrix(21 13.3 -13.3 21 204.8 388.35)"/><use href="#p" transform="matrix(-9.3 23.3 -23.3 -9.3 189.65 393.35)"/></mask>
<mask id="m84"><use href="#W"/><use href="#n" transform="matrix(0 20 -20 0 235.3 373.3)"/><use href="#n" transform="matrix(-14 8.3 -8.3 -14 242.3 379.15)"/><use href="#p" transform="matrix(-20 11.7 -11.7 -20 225.3 389.15)"/><use href="#p" transform="matrix(22.4 15.7 -15.7 22.4 246.5 391.15)"/><use href="#p" transform="matrix(0 26.7 -26.7 0 235.3 396.65)"/></mask>
<mask id="m85"><use href="#W"/><use href="#n" transform="matrix(-31.7 18.4 -18.4 -31.7 296.85 377.5)"/><use href="#n" transform="matrix(31.7 11.7 -11.7 31.7 265.15 380.85)"/><use href="#n" transform="matrix(1.7 20 -20 1.7 280.15 376.7)"/><use href="#p" transform="matrix(-23.3 12.3 -12.3 -23.3 269.35 392.85)"/><use href="#p" transform="matrix(36.7 15.6 -15.6 36.7 299.35 394.5)"/></mask>
<mask id="m86"><use href="#W"/><use href="#n" transform="matrix(25 22.7 -22.7 25 325.2 379.65)"/><use href="#n" transform="matrix(0 20 -20 0 337.7 381)"/><use href="#p" transform="matrix(-20 11.3 -11.3 -20 327.7 396.65)"/></mask>
<mask id="m87"><use href="#W"/><use href="#n" transform="matrix(6.7 31 -31 6.7 131.65 378.8)"/><use href="#n" transform="matrix(-21.7 27.6 -27.6 -21.7 145.85 380.5)"/><use href="#n" transform="matrix(33.3 11.6 -11.6 33.3 118.35 388.5)"/><use href="#p" transform="matrix(20 5.7 -5.7 20 145 397.15)"/><use href="#p" transform="matrix(-13.3 17.4 -17.4 -13.3 128.35 403)"/></mask>
<mask id="m88"><use href="#W"/><use href="#n" transform="matrix(0 23.6 -23.6 0 80 382.5)"/><use href="#n" transform="matrix(20.7 11.6 -11.6 20.7 69.65 388.5)"/><use href="#n" transform="matrix(-21.7 11.6 -11.6 -21.7 90.85 388.5)"/><use href="#p" transform="matrix(-43.3 14.7 -14.7 -43.3 58.35 401.65)"/><use href="#p" transform="matrix(41.7 17.4 -17.4 41.7 100.85 403)"/></mask>
<mask id="m89"><use href="#W"/><use href="#n" transform="matrix(17.6 34 -34 17.6 206.5 378)"/><use href="#n" transform="matrix(-20 31.7 -31.7 -20 225.3 379.15)"/><use href="#n" transform="matrix(21 13.3 -13.3 21 204.8 388.35)"/><use href="#n" transform="matrix(-20 11.7 -11.7 -20 225.3 389.15)"/><use href="#p" transform="matrix(-30.3 10 -10 -30.3 200.15 400)"/><use href="#p" transform="matrix(20 15 -15 20 225.3 402.5)"/></mask>
<mask id="m90"><use href="#W"/><use href="#n" transform="matrix(8.4 24 -24 8.4 253.5 387)"/><use href="#n" transform="matrix(22.4 15.7 -15.7 22.4 246.5 391.15)"/><use href="#n" transform="matrix(-23.3 12.3 -12.3 -23.3 269.35 392.85)"/><use href="#p" transform="matrix(-22.4 11 -11 -22.4 246.5 404.5)"/></mask>
<mask id="m91"><use href="#W"/><use href="#n" transform="matrix(-1.7 33.3 -33.3 -1.7 155.85 383.35)"/><use href="#n" transform="matrix(-21.7 28.3 -28.3 -21.7 165.85 385.85)"/><use href="#n" transform="matrix(20 5.7 -5.7 20 145 397.15)"/><use href="#p" transform="matrix(-33.3 11.7 -11.7 -33.3 138.35 405.85)"/><use href="#p" transform="matrix(30 5 -5 30 170 402.5)"/></mask>
<mask id="m92"><use href="#W"/><use href="#n" transform="matrix(5 34 -34 5 315.2 385.3)"/><use href="#n" transform="matrix(36.7 15.6 -15.6 36.7 299.35 394.5)"/><use href="#n" transform="matrix(-20 11.3 -11.3 -20 327.7 396.65)"/></mask>
<mask id="m93"><use href="#W"/><use href="#n" transform="matrix(0 37.3 -37.3 0 36.7 390.35)"/><use href="#n" transform="matrix(-22.6 26.3 -26.3 -22.6 48 395.85)"/><use href="#n" transform="matrix(-43.3 14.7 -14.7 -43.3 58.35 401.65)"/></mask>
<mask id="m94"><use href="#W"/><use href="#n" transform="matrix(20 29 -29 20 111.7 397.2)"/><use href="#n" transform="matrix(-13.3 17.4 -17.4 -13.3 128.35 403)"/><use href="#n" transform="matrix(41.7 17.4 -17.4 41.7 100.85 403)"/><use href="#n" transform="matrix(-33.3 11.7 -11.7 -33.3 138.35 405.85)"/></mask>
<mask id="m95"><use href="#W"/><use href="#n" transform="matrix(8.3 33.3 -33.3 8.3 180.85 388.35)"/><use href="#n" transform="matrix(-9.3 23.3 -23.3 -9.3 189.65 393.35)"/><use href="#n" transform="matrix(-30.3 10 -10 -30.3 200.15 400)"/><use href="#n" transform="matrix(30 5 -5 30 170 402.5)"/></mask>
<mask id="m96"><use href="#W"/><use href="#n" transform="matrix(0 26.7 -26.7 0 235.3 396.65)"/><use href="#n" transform="matrix(20 15 -15 20 225.3 402.5)"/><use href="#n" transform="matrix(-22.4 11 -11 -22.4 246.5 404.5)"/></mask>
</defs>
<rect width="376" height="428" fill="#fff"/>

<g id="squares">
<rect class="hl" x="54.4" y="102.4" width="39.2" height="30"/>
<path class="grid" d="M54.4,12.5V192.3M93.6,12.5V192.3M15.3,42.5H132.7M15.3,72.4H132.7M15.3,102.4H132.7M15.3,132.4H132.7M15.3,162.3H132.7"/>
<g class="dot">
<use href="#d" x="34.9" y="27.5"/><use href="#d" x="74" y="27.5"/><use href="#d" x="113.1" y="27.5"/>
<use href="#d" x="34.9" y="57.5"/><use href="#d" x="74" y="57.5"/><use href="#d" x="113.1" y="57.5"/>
<use href="#d" x="34.9" y="87.4"/><use href="#d" x="74" y="87.4"/><use href="#d" x="113.1" y="87.4"/>
<use href="#d" x="34.9" y="117.4"/><use href="#d" x="74" y="117.4"/><use href="#d" x="113.1" y="117.4"/>
<use href="#d" x="34.9" y="147.4"/><use href="#d" x="74" y="147.4"/><use href="#d" x="113.1" y="147.4"/>
<use href="#d" x="34.9" y="177.3"/><use href="#d" x="74" y="177.3"/><use href="#d" x="113.1" y="177.3"/>
</g>
</g>

<g id="triangles" clip-path="url(#cTri)">
<polygon class="hl" points="176.4,77.9 211.1,77.9 193.75,108"/>
<path class="grid" d="M132,17.7H252M132,47.8H252M132,77.9H252M132,108H252M132,138.1H252M132,168.2H252
M-7.3,0L97.6,200M27.4,0L132.3,200M62.1,0L167,200M96.8,0L201.7,200M131.5,0L236.4,200M166.2,0L271.1,200M200.9,0L305.8,200M235.6,0L340.5,200
M151.9,0L46.8,200M186.6,0L81.5,200M221.3,0L116.2,200M256,0L150.9,200M290.7,0L185.6,200M325.4,0L220.3,200M360.1,0L255,200M394.8,0L289.7,200"/>
<g class="dot">
<use href="#d" x="159.05" y="27.7"/><use href="#d" x="193.75" y="27.7"/><use href="#d" x="228.45" y="27.7"/>
<use href="#d" x="141.7" y="37.8"/><use href="#d" x="176.4" y="37.8"/><use href="#d" x="211.1" y="37.8"/><use href="#d" x="245.8" y="37.8"/>
<use href="#d" x="141.7" y="57.8"/><use href="#d" x="176.4" y="57.8"/><use href="#d" x="211.1" y="57.8"/><use href="#d" x="245.8" y="57.8"/>
<use href="#d" x="159.05" y="67.9"/><use href="#d" x="193.75" y="67.9"/><use href="#d" x="228.45" y="67.9"/>
<use href="#d" x="159.05" y="87.9"/><use href="#d" x="193.75" y="87.9"/><use href="#d" x="228.45" y="87.9"/>
<use href="#d" x="141.7" y="98"/><use href="#d" x="176.4" y="98"/><use href="#d" x="211.1" y="98"/><use href="#d" x="245.8" y="98"/>
<use href="#d" x="141.7" y="118"/><use href="#d" x="176.4" y="118"/><use href="#d" x="211.1" y="118"/><use href="#d" x="245.8" y="118"/>
<use href="#d" x="159.05" y="128.1"/><use href="#d" x="193.75" y="128.1"/><use href="#d" x="228.45" y="128.1"/>
<use href="#d" x="159.05" y="148.1"/><use href="#d" x="193.75" y="148.1"/><use href="#d" x="228.45" y="148.1"/>
<use href="#d" x="141.7" y="158.2"/><use href="#d" x="176.4" y="158.2"/><use href="#d" x="211.1" y="158.2"/><use href="#d" x="245.8" y="158.2"/>
<use href="#d" x="141.7" y="178.2"/><use href="#d" x="176.4" y="178.2"/><use href="#d" x="211.1" y="178.2"/><use href="#d" x="245.8" y="178.2"/>
<use href="#d" x="159.05" y="188.3"/><use href="#d" x="193.75" y="188.3"/><use href="#d" x="228.45" y="188.3"/>
</g>
</g>

<g id="hexagons" clip-path="url(#cHex)">
<use href="#hex" class="hl" x="308.8" y="132.5"/>
<g class="grid">
<use href="#hex" x="250.2" y="3.75"/><use href="#hex" x="279.5" y="3.75"/><use href="#hex" x="308.8" y="3.75"/><use href="#hex" x="338.1" y="3.75"/><use href="#hex" x="367.4" y="3.75"/>
<use href="#hex" x="235.55" y="29.5"/><use href="#hex" x="264.85" y="29.5"/><use href="#hex" x="294.15" y="29.5"/><use href="#hex" x="323.45" y="29.5"/><use href="#hex" x="352.75" y="29.5"/><use href="#hex" x="382.05" y="29.5"/>
<use href="#hex" x="250.2" y="55.25"/><use href="#hex" x="279.5" y="55.25"/><use href="#hex" x="308.8" y="55.25"/><use href="#hex" x="338.1" y="55.25"/><use href="#hex" x="367.4" y="55.25"/>
<use href="#hex" x="235.55" y="81"/><use href="#hex" x="264.85" y="81"/><use href="#hex" x="294.15" y="81"/><use href="#hex" x="323.45" y="81"/><use href="#hex" x="352.75" y="81"/><use href="#hex" x="382.05" y="81"/>
<use href="#hex" x="250.2" y="106.75"/><use href="#hex" x="279.5" y="106.75"/><use href="#hex" x="308.8" y="106.75"/><use href="#hex" x="338.1" y="106.75"/><use href="#hex" x="367.4" y="106.75"/>
<use href="#hex" x="235.55" y="132.5"/><use href="#hex" x="264.85" y="132.5"/><use href="#hex" x="294.15" y="132.5"/><use href="#hex" x="323.45" y="132.5"/><use href="#hex" x="352.75" y="132.5"/><use href="#hex" x="382.05" y="132.5"/>
<use href="#hex" x="250.2" y="158.25"/><use href="#hex" x="279.5" y="158.25"/><use href="#hex" x="308.8" y="158.25"/><use href="#hex" x="338.1" y="158.25"/><use href="#hex" x="367.4" y="158.25"/>
<use href="#hex" x="235.55" y="184"/><use href="#hex" x="264.85" y="184"/><use href="#hex" x="294.15" y="184"/><use href="#hex" x="323.45" y="184"/><use href="#hex" x="352.75" y="184"/><use href="#hex" x="382.05" y="184"/>
</g>
<g class="dot">
<use href="#d" x="279.5" y="29.5"/><use href="#d" x="308.8" y="29.5"/><use href="#d" x="338.1" y="29.5"/>
<use href="#d" x="264.85" y="55.25"/><use href="#d" x="294.15" y="55.25"/><use href="#d" x="323.45" y="55.25"/><use href="#d" x="352.75" y="55.25"/>
<use href="#d" x="279.5" y="81"/><use href="#d" x="308.8" y="81"/><use href="#d" x="338.1" y="81"/>
<use href="#d" x="264.85" y="106.75"/><use href="#d" x="294.15" y="106.75"/><use href="#d" x="323.45" y="106.75"/><use href="#d" x="352.75" y="106.75"/>
<use href="#d" x="279.5" y="132.5"/><use href="#d" x="308.8" y="132.5"/><use href="#d" x="338.1" y="132.5"/>
<use href="#d" x="264.85" y="158.25"/><use href="#d" x="294.15" y="158.25"/><use href="#d" x="323.45" y="158.25"/><use href="#d" x="352.75" y="158.25"/>
<use href="#d" x="279.5" y="184"/><use href="#d" x="308.8" y="184"/><use href="#d" x="338.1" y="184"/>
</g>
</g>

<g id="voronoi">
<rect x="15" y="212" width="352" height="208" fill="#505050"/>
<g id="cells">
<use href="#W" mask="url(#m1)"/><use href="#W" mask="url(#m2)"/><use href="#W" mask="url(#m3)"/><use href="#W" mask="url(#m4)"/><use href="#W" mask="url(#m5)"/><use href="#W" mask="url(#m6)"/><use href="#W" mask="url(#m7)"/><use href="#W" mask="url(#m8)"/><use href="#W" mask="url(#m9)"/><use href="#W" mask="url(#m10)"/>
<use href="#W" mask="url(#m11)"/><use href="#W" mask="url(#m12)"/><use href="#W" mask="url(#m13)"/><use href="#W" mask="url(#m14)"/><use href="#W" mask="url(#m15)"/><use href="#W" mask="url(#m16)"/><use href="#W" mask="url(#m17)"/><use href="#W" mask="url(#m18)"/><use href="#W" mask="url(#m19)"/><use href="#W" mask="url(#m20)"/>
<use href="#W" mask="url(#m21)"/><use href="#W" mask="url(#m22)"/><use href="#W" mask="url(#m23)"/><use href="#W" mask="url(#m24)"/><use href="#W" mask="url(#m25)"/><use href="#W" mask="url(#m26)"/><use href="#W" mask="url(#m27)"/><use href="#W" mask="url(#m28)"/><use href="#W" mask="url(#m29)"/><use href="#W" mask="url(#m30)"/>
<use href="#W" mask="url(#m31)"/><use href="#W" mask="url(#m32)"/><use href="#W" mask="url(#m33)"/><use href="#W" mask="url(#m34)"/><use href="#W" mask="url(#m35)"/><use href="#W" mask="url(#m36)"/><use href="#W" mask="url(#m37)"/><use href="#W" mask="url(#m38)"/><use href="#W" mask="url(#m39)"/><use href="#W" mask="url(#m40)"/>
<use href="#W" mask="url(#m41)"/><use href="#W" mask="url(#m42)"/><use href="#W" mask="url(#m43)"/><use href="#W" mask="url(#m44)"/><use href="#W" mask="url(#m45)"/><use href="#W" mask="url(#m46)"/><use href="#W" mask="url(#m47)"/><use href="#W" mask="url(#m48)"/><use href="#W" mask="url(#m49)"/><use href="#W" mask="url(#m50)"/>
<use href="#W" mask="url(#m51)"/><use href="#W" mask="url(#m52)"/><use href="#W" mask="url(#m53)"/><use href="#W" mask="url(#m54)"/><use href="#W" mask="url(#m55)"/><use href="#W" mask="url(#m56)"/><use href="#W" mask="url(#m57)"/><use href="#W" mask="url(#m58)"/><use href="#W" mask="url(#m59)"/><use href="#W" mask="url(#m60)"/>
<use href="#W" mask="url(#m61)"/><use href="#W" mask="url(#m62)"/><use href="#W" mask="url(#m63)"/><use href="#W" mask="url(#m64)"/><use href="#W" mask="url(#m65)"/><use href="#W" mask="url(#m66)"/><use href="#W" mask="url(#m67)"/><use href="#W" mask="url(#m68)"/><use href="#W" mask="url(#m69)"/><use href="#W" mask="url(#m70)"/>
<use href="#W" mask="url(#m71)"/><use href="#W" mask="url(#m72)"/><use href="#W" mask="url(#m73)"/><use href="#W" mask="url(#m74)"/><use href="#W" mask="url(#m75)"/><use href="#W" mask="url(#m76)"/><use href="#W" mask="url(#m77)"/><use href="#W" mask="url(#m78)"/><use href="#W" mask="url(#m79)"/><use href="#W" mask="url(#m80)"/>
<use href="#W" mask="url(#m81)"/><use href="#W" mask="url(#m82)"/><use href="#W" mask="url(#m83)"/><use href="#W" mask="url(#m84)"/><use href="#W" mask="url(#m85)"/><use href="#W" mask="url(#m86)"/><use href="#W" mask="url(#m87)"/><use href="#W" mask="url(#m88)"/><use href="#W" mask="url(#m89)"/><use href="#W" mask="url(#m90)"/>
<use href="#W" mask="url(#m91)"/><use href="#W" mask="url(#m92)"/><use href="#W" mask="url(#m93)"/><use href="#W" mask="url(#m94)"/><use href="#W" mask="url(#m95)"/><use href="#W" mask="url(#m96)"/>
</g>
<g class="dot">
<use href="#d" x="35" y="227.3"/><use href="#d" x="78.3" y="236"/><use href="#d" x="132.3" y="228.7"/><use href="#d" x="188.5" y="241.5"/><use href="#d" x="228.7" y="232.3"/><use href="#d" x="273.7" y="230.7"/><use href="#d" x="331" y="227.7"/><use href="#d" x="54.3" y="246.7"/><use href="#d" x="40" y="261"/><use href="#d" x="110" y="259"/>
<use href="#d" x="136.7" y="252.3"/><use href="#d" x="172.7" y="261.7"/><use href="#d" x="217.7" y="253.3"/><use href="#d" x="273.7" y="249.3"/><use href="#d" x="306" y="248.3"/><use href="#d" x="342.7" y="257.3"/><use href="#d" x="247.7" y="261"/><use href="#d" x="78.3" y="269"/><use href="#d" x="60" y="279.3"/><use href="#d" x="228.7" y="266"/>
<use href="#d" x="206" y="271"/><use href="#d" x="282.7" y="267.3"/><use href="#d" x="266" y="274.3"/><use href="#d" x="319.3" y="271.7"/><use href="#d" x="90" y="284.3"/><use href="#d" x="148.3" y="285"/><use href="#d" x="116.7" y="291.7"/><use href="#d" x="35" y="301.7"/><use href="#d" x="70" y="302.7"/><use href="#d" x="129.3" y="302.7"/>
<use href="#d" x="165" y="303.3"/><use href="#d" x="188.7" y="291.7"/><use href="#d" x="222.7" y="295.7"/><use href="#d" x="256" y="292.3"/><use href="#d" x="286" y="288.3"/><use href="#d" x="319.3" y="291.7"/><use href="#d" x="349.3" y="301"/><use href="#d" x="199.3" y="305"/><use href="#d" x="237.7" y="299"/><use href="#d" x="299.3" y="303.3"/>
<use href="#d" x="101.7" y="312.3"/><use href="#d" x="145" y="313.3"/><use href="#d" x="64.3" y="316.7"/><use href="#d" x="42.7" y="327.7"/><use href="#d" x="118.3" y="328.3"/><use href="#d" x="156.7" y="326.7"/><use href="#d" x="249.3" y="311"/><use href="#d" x="325.3" y="316.7"/><use href="#d" x="192.7" y="325"/><use href="#d" x="219.3" y="317.7"/>
<use href="#d" x="287.7" y="329"/><use href="#d" x="76.7" y="335"/><use href="#d" x="100" y="339.3"/><use href="#d" x="136.7" y="337.3"/><use href="#d" x="151.7" y="346.7"/><use href="#d" x="163.3" y="344.3"/><use href="#d" x="182.7" y="347.7"/><use href="#d" x="39.3" y="349.3"/><use href="#d" x="200" y="336.7"/><use href="#d" x="237.7" y="335"/>
<use href="#d" x="332.7" y="336.7"/><use href="#d" x="256" y="342.3"/><use href="#d" x="217" y="346.7"/><use href="#d" x="299.3" y="340"/><use href="#d" x="276" y="351.7"/><use href="#d" x="332.7" y="356.7"/><use href="#d" x="61.7" y="357.3"/><use href="#d" x="101.7" y="362.3"/><use href="#d" x="128.3" y="363.3"/><use href="#d" x="36.7" y="371.7"/>
<use href="#d" x="80" y="370.7"/><use href="#d" x="156.7" y="366.7"/><use href="#d" x="176.7" y="371.7"/><use href="#d" x="197.7" y="361"/><use href="#d" x="235.3" y="363.3"/><use href="#d" x="299.3" y="356.7"/><use href="#d" x="312.7" y="368.3"/><use href="#d" x="337.7" y="371"/><use href="#d" x="249.3" y="375"/><use href="#d" x="279.3" y="366.7"/>
<use href="#d" x="59.3" y="382.7"/><use href="#d" x="101.7" y="382.7"/><use href="#d" x="194.3" y="381.7"/><use href="#d" x="235.3" y="383.3"/><use href="#d" x="281" y="386.7"/><use href="#d" x="337.7" y="391"/><use href="#d" x="135" y="394.3"/><use href="#d" x="80" y="394.3"/><use href="#d" x="215.3" y="395"/><use href="#d" x="257.7" y="399"/>
<use href="#d" x="155" y="400"/><use href="#d" x="317.7" y="402.3"/><use href="#d" x="36.7" y="409"/><use href="#d" x="121.7" y="411.7"/><use href="#d" x="185" y="405"/><use href="#d" x="235.3" y="410"/>
</g>
</g>

<g id="frame" class="frame">
<path d="M15.3,12.5H376M15.3,192.3H376M15.3,4V200M132.7,4V200M251,4V200M366.7,4V201"/>
<path d="M5,212.3H376M3,420H376M15.5,205V428M366.7,205V428"/>
</g>
</svg>
